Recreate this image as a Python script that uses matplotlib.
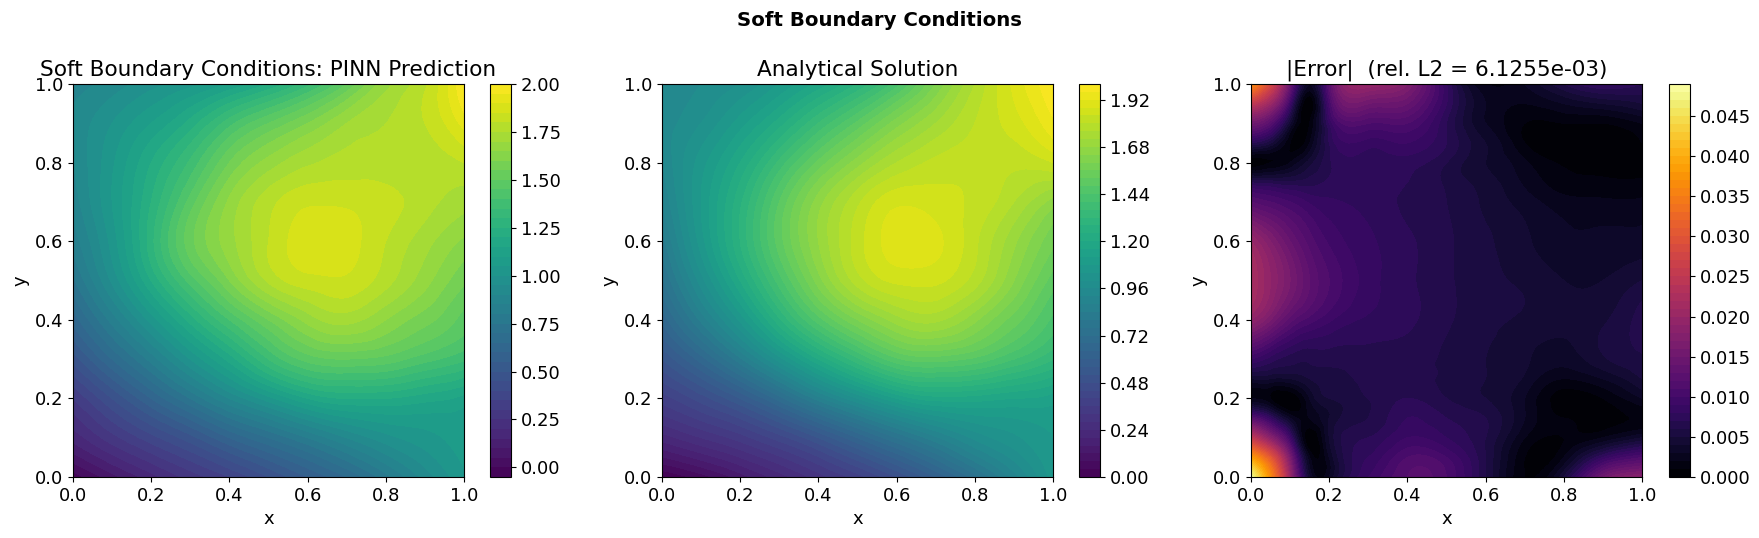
import matplotlib
matplotlib.use("Agg")
import matplotlib.pyplot as plt
import matplotlib.tri as mtri
import numpy as np

grid_x = [0.0, 0.1, 0.2, 0.3, 0.4, 0.5, 0.6, 0.7, 0.8, 0.9, 1.0]
grid_y = [0.0, 0.1, 0.2, 0.3, 0.4, 0.5, 0.6, 0.7, 0.8, 0.9, 1.0]

# values, rows go from y=0 up to y=1
pinn_values = [
    [-0.03, 0.08, 0.18, 0.27, 0.35, 0.45, 0.55, 0.65, 0.78, 0.92, 1.04],
    [0.17, 0.28, 0.38, 0.48, 0.60, 0.70, 0.80, 0.90, 0.98, 1.03, 1.07],
    [0.30, 0.45, 0.60, 0.75, 0.90, 1.03, 1.15, 1.20, 1.20, 1.17, 1.13],
    [0.47, 0.65, 0.82, 1.00, 1.17, 1.35, 1.47, 1.50, 1.48, 1.42, 1.36],
    [0.62, 0.82, 1.02, 1.22, 1.40, 1.55, 1.67, 1.72, 1.65, 1.57, 1.48],
    [0.74, 0.96, 1.20, 1.42, 1.60, 1.76, 1.83, 1.84, 1.77, 1.67, 1.56],
    [0.82, 1.02, 1.28, 1.53, 1.68, 1.80, 1.88, 1.87, 1.80, 1.72, 1.64],
    [0.87, 1.05, 1.25, 1.47, 1.66, 1.78, 1.84, 1.84, 1.82, 1.77, 1.72],
    [0.90, 1.04, 1.20, 1.36, 1.55, 1.67, 1.74, 1.77, 1.77, 1.77, 1.80],
    [0.91, 1.00, 1.10, 1.22, 1.38, 1.50, 1.60, 1.70, 1.75, 1.80, 1.92],
    [0.88, 0.92, 0.98, 1.03, 1.10, 1.20, 1.33, 1.50, 1.68, 1.79, 2.00],
]

exact_values = [
    [0.00, 0.06, 0.14, 0.22, 0.30, 0.38, 0.48, 0.60, 0.74, 0.90, 1.06],
    [0.22, 0.28, 0.34, 0.42, 0.52, 0.64, 0.76, 0.87, 0.97, 1.03, 1.08],
    [0.38, 0.46, 0.56, 0.70, 0.86, 1.00, 1.12, 1.18, 1.18, 1.16, 1.14],
    [0.52, 0.66, 0.83, 1.02, 1.20, 1.35, 1.47, 1.50, 1.47, 1.40, 1.32],
    [0.65, 0.85, 1.05, 1.27, 1.46, 1.60, 1.70, 1.73, 1.65, 1.54, 1.43],
    [0.75, 0.98, 1.20, 1.42, 1.62, 1.78, 1.85, 1.85, 1.78, 1.64, 1.50],
    [0.82, 1.06, 1.28, 1.50, 1.68, 1.82, 1.90, 1.89, 1.81, 1.69, 1.57],
    [0.88, 1.08, 1.27, 1.48, 1.66, 1.79, 1.87, 1.86, 1.83, 1.76, 1.66],
    [0.92, 1.06, 1.20, 1.37, 1.53, 1.66, 1.76, 1.81, 1.82, 1.81, 1.84],
    [0.94, 1.00, 1.10, 1.22, 1.36, 1.49, 1.62, 1.72, 1.80, 1.86, 1.95],
    [0.92, 0.96, 1.00, 1.08, 1.17, 1.28, 1.42, 1.60, 1.76, 1.89, 2.00],
]

error_x = [0.0, 0.05, 0.1, 0.15, 0.2, 0.3, 0.4, 0.5, 0.6, 0.7, 0.8, 0.9, 1.0]
error_y = [0.0, 0.05, 0.1, 0.15, 0.2, 0.25, 0.3, 0.4, 0.5, 0.6, 0.7, 0.75, 0.8, 0.85, 0.9, 0.95, 1.0]

error_values = [
    [0.0485, 0.036, 0.020, 0.004, 0.003, 0.009, 0.012, 0.011, 0.006, 0.001, 0.005, 0.015, 0.018],
    [0.038, 0.030, 0.016, 0.002, 0.003, 0.008, 0.011, 0.010, 0.006, 0.001, 0.002, 0.008, 0.011],
    [0.025, 0.018, 0.009, 0.000, 0.004, 0.007, 0.009, 0.008, 0.006, 0.002, 0.001, 0.002, 0.004],
    [0.012, 0.008, 0.003, 0.002, 0.004, 0.006, 0.008, 0.007, 0.006, 0.003, 0.001, 0.0005, 0.001],
    [0.002, 0.001, 0.000, 0.003, 0.005, 0.006, 0.007, 0.006, 0.005, 0.003, 0.0005, 0.001, 0.003],
    [0.004, 0.004, 0.004, 0.005, 0.0055, 0.0062, 0.0062, 0.0058, 0.005, 0.0038, 0.002, 0.003, 0.005],
    [0.009, 0.0075, 0.0065, 0.0062, 0.0064, 0.0066, 0.0064, 0.0058, 0.005, 0.0042, 0.0034, 0.0048, 0.0058],
    [0.019, 0.016, 0.0125, 0.0105, 0.0092, 0.0078, 0.0072, 0.0062, 0.0053, 0.0048, 0.0042, 0.0048, 0.0065],
    [0.022, 0.019, 0.016, 0.013, 0.011, 0.0085, 0.0072, 0.0062, 0.0053, 0.0048, 0.004, 0.004, 0.005],
    [0.020, 0.017, 0.014, 0.0115, 0.0098, 0.0082, 0.0072, 0.0062, 0.0052, 0.0042, 0.0032, 0.0032, 0.0034],
    [0.012, 0.011, 0.010, 0.0088, 0.0082, 0.0075, 0.0068, 0.006, 0.0048, 0.0035, 0.0024, 0.0022, 0.0022],
    [0.007, 0.0065, 0.0062, 0.0065, 0.0072, 0.0072, 0.007, 0.0058, 0.0045, 0.0028, 0.0014, 0.0012, 0.0012],
    [0.0005, 0.001, 0.002, 0.0045, 0.0068, 0.0075, 0.0075, 0.006, 0.004, 0.0022, 0.0008, 0.0005, 0.0005],
    [0.007, 0.005, 0.001, 0.002, 0.007, 0.0085, 0.009, 0.007, 0.004, 0.001, 0.000, 0.000, 0.001],
    [0.015, 0.012, 0.004, 0.001, 0.008, 0.011, 0.011, 0.007, 0.003, 0.001, 0.001, 0.001, 0.002],
    [0.025, 0.020, 0.009, 0.000, 0.010, 0.015, 0.014, 0.008, 0.003, 0.002, 0.003, 0.004, 0.005],
    [0.037, 0.028, 0.014, 0.003, 0.012, 0.020, 0.017, 0.008, 0.002, 0.003, 0.006, 0.008, 0.007],
]

W, H = 1759, 538


def add_panel(fig, left, cax_left, xs, ys, values, levels, cmap, title):
    ax = fig.add_axes([left / W, 1 - 477 / H, 391 / W, 393 / H])
    # smooth the read values with matplotlib's own mesh refiner
    X, Y = np.meshgrid(xs, ys)
    tri = mtri.Triangulation(X.ravel(), Y.ravel())
    fine_tri, fine_z = mtri.UniformTriRefiner(tri).refine_field(np.array(values).ravel(), subdiv=3)
    cf = ax.tricontourf(fine_tri, np.clip(fine_z, levels[0], levels[-1]), levels=levels, cmap=cmap)
    ax.set_xlim(0, 1)
    ax.set_ylim(0, 1)
    ax.set_xlabel("x", fontsize=13)
    ax.set_ylabel("y", fontsize=13)
    ax.set_title(title, fontsize=15.6, pad=6)
    ax.tick_params(labelsize=13)
    cax = fig.add_axes([cax_left / W, 1 - 477 / H, 21 / W, 393 / H])
    cb = fig.colorbar(cf, cax=cax)
    cb.ax.tick_params(labelsize=13)
    return ax


fig = plt.figure(figsize=(W / 100, H / 100), dpi=100)
add_panel(fig, 73, 490, grid_x, grid_y, pinn_values, np.arange(-0.05, 2.01, 0.05),
          "viridis", "Soft Boundary Conditions: PINN Prediction")
add_panel(fig, 662, 1079, grid_x, grid_y, exact_values, np.arange(0, 2.01, 0.04),
          "viridis", "Analytical Solution")
add_panel(fig, 1251, 1669, error_x, error_y, error_values, np.arange(0, 0.0495, 0.001),
          "inferno", "|Error|  (rel. L2 = 6.1255e-03)")
fig.suptitle("Soft Boundary Conditions", fontsize=14.2, fontweight="bold", x=0.5, y=1 - 20 / H, va="center")
fig.savefig("out.png", dpi=100)
plt.close(fig)
